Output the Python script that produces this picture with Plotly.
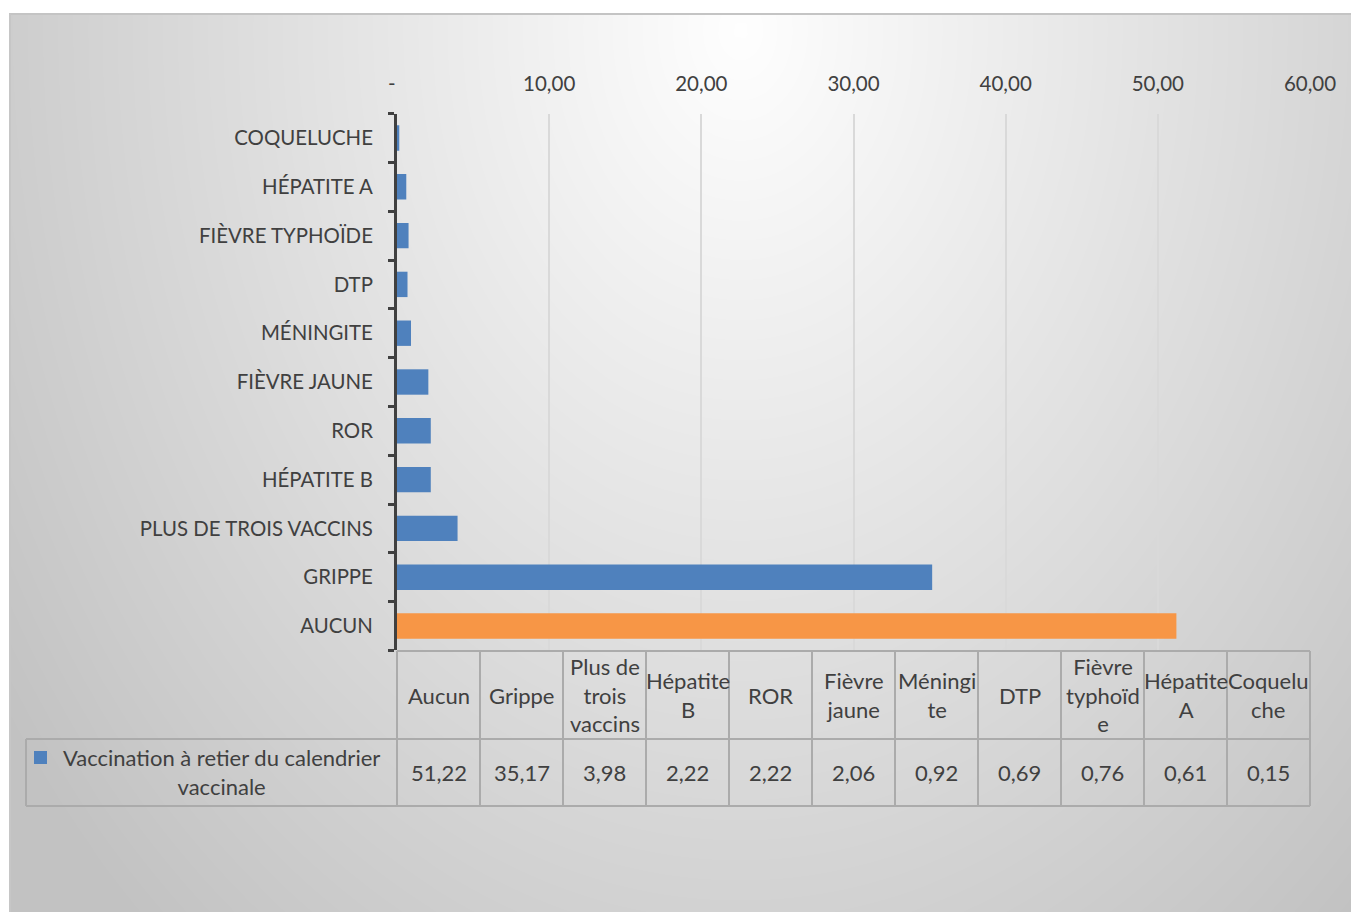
import numpy as np
import plotly.graph_objects as go

# ---------------- data ----------------
categories = ["Aucun", "Grippe", "Plus de trois vaccins", "Hépatite B", "ROR",
              "Fièvre jaune", "Méningite", "DTP", "Fièvre typhoïde", "Hépatite A",
              "Coqueluche"]
values = [51.22, 35.17, 3.98, 2.22, 2.22, 2.06, 0.92, 0.69, 0.76, 0.61, 0.15]
header_labels = ["Aucun", "Grippe", "Plus de<br>trois<br>vaccins", "Hépatite<br>B", "ROR",
                 "Fièvre<br>jaune", "Méningi<br>te", "DTP", "Fièvre<br>typhoïd<br>e",
                 "Hépatite<br>A", "Coquelu<br>che"]
series_label = "Vaccination à retier du calendrier<br>vaccinale"
x_tickvals = [0, 10, 20, 30, 40, 50, 60]
x_ticktext = ["-\u00a0\u00a0", "10,00", "20,00", "30,00", "40,00", "50,00", "60,00"]
highlight = "Aucun"

# ---------------- style ----------------
W, H = 1351, 912
FONT = "Lato"
TXT = "#404040"
BLUE = "#4F81BD"
ORANGE = "#F79646"
GRID = "#d9d9d9"
TABLE_LINE = "#ababab"
FS_TABLE = 22
FS_YTICK = 20.4
FS_XTICK = 20.5

def px(xp):
    return xp / W

def py(yp):
    return 1 - yp / H

x_dom = [px(397), px(1310)]
y_dom = [py(650.4), py(113.6)]
XMAX = 60

fig = go.Figure()

# background radial gradient (decorative) on hidden axes x/y
gx = np.linspace(9, W, 136)
gy = np.linspace(14, H, 91)
GX, GY = np.meshgrid(gx, gy)
t = np.sqrt(((GX - 740) / 900.0) ** 2 + ((GY - 30) / 1200.0) ** 2)
t = np.clip(t, 0, 1)
fig.add_trace(go.Heatmap(x=gx, y=gy, z=t, zmin=0, zmax=1, zsmooth="best",
                         colorscale=[[0, "#fefefe"], [1, "#c2c2c2"]],
                         showscale=False, hoverinfo="skip",
                         xaxis="x", yaxis="y"))

# bars
bar_colors = [ORANGE if c == highlight else BLUE for c in categories]
fig.add_trace(go.Bar(
    x=values, y=[c.upper() for c in categories], orientation="h",
    marker=dict(color=bar_colors, line=dict(width=0)),
    xaxis="x2", yaxis="y2", showlegend=False, hoverinfo="x+y"))

shapes = []
# card border
shapes.append(dict(type="line", xref="paper", yref="paper", x0=px(9), x1=1,
                   y0=py(14), y1=py(14), line=dict(color="#c4c4c4", width=2)))
shapes.append(dict(type="line", xref="paper", yref="paper", x0=px(10), x1=px(10),
                   y0=py(14), y1=0, line=dict(color="#c6c6c6", width=2)))

# data table grid
n = len(categories)
col_w = (x_dom[1] - x_dom[0]) / n
ln = dict(color=TABLE_LINE, width=2)
shapes.append(dict(type="line", xref="paper", yref="paper", x0=x_dom[0], x1=x_dom[1],
                   y0=py(651), y1=py(651), line=ln))
for yy in (739, 806):
    shapes.append(dict(type="line", xref="paper", yref="paper", x0=px(26), x1=x_dom[1],
                       y0=py(yy), y1=py(yy), line=ln))
shapes.append(dict(type="line", xref="paper", yref="paper", x0=px(26), x1=px(26),
                   y0=py(739), y1=py(806), line=ln))
for i in range(n + 1):
    xx = x_dom[0] + i * col_w
    shapes.append(dict(type="line", xref="paper", yref="paper", x0=xx, x1=xx,
                       y0=py(651), y1=py(806), line=ln))
# legend key
shapes.append(dict(type="rect", xref="paper", yref="paper", x0=px(34), x1=px(47),
                   y0=py(764), y1=py(751), fillcolor=BLUE, line=dict(width=0)))

annotations = []
for i, (lab, v) in enumerate(zip(header_labels, values)):
    xc = (i + 0.5) * XMAX / n
    annotations.append(dict(x=xc, xref="x2", y=py(695), yref="paper", text=lab,
                            showarrow=False, align="center", yanchor="middle",
                            font=dict(family=FONT, size=FS_TABLE, color=TXT)))
    annotations.append(dict(x=xc, xref="x2", y=py(772), yref="paper",
                            text=f"{v:.2f}".replace(".", ","),
                            showarrow=False, align="center", yanchor="middle",
                            font=dict(family=FONT, size=FS_TABLE, color=TXT)))
annotations.append(dict(x=px(221), xref="paper", y=py(772), yref="paper", text=series_label,
                        showarrow=False, align="center", xanchor="center", yanchor="middle",
                        font=dict(family=FONT, size=FS_TABLE, color=TXT)))

fig.update_layout(
    template="none",
    width=W, height=H,
    autosize=False,
    margin=dict(l=0, r=0, t=0, b=0, pad=0, autoexpand=False),
    paper_bgcolor="white",
    plot_bgcolor="rgba(0,0,0,0)",
    font=dict(family=FONT, size=FS_TABLE, color=TXT),
    showlegend=False,
    bargap=0.48,
    xaxis=dict(domain=[px(9), 1], range=[9, W], visible=False, fixedrange=True,
               automargin=False),
    yaxis=dict(domain=[0, py(14)], range=[H, 14], visible=False, fixedrange=True,
               automargin=False),
    xaxis2=dict(domain=x_dom, anchor="y2", side="top", range=[0, XMAX],
                tickvals=x_tickvals, ticktext=x_ticktext, showgrid=True,
                gridcolor=GRID, gridwidth=1.5, zeroline=False, showline=False,
                ticks="", ticklabelstandoff=18, automargin=False,
                tickfont=dict(family=FONT, size=FS_XTICK, color=TXT)),
    yaxis2=dict(domain=y_dom, anchor="x2", type="category",
                categoryorder="array", categoryarray=[c.upper() for c in categories],
                showline=True, linecolor="#404040", linewidth=3, zeroline=False,
                ticks="outside", tickson="boundaries", ticklen=6, tickwidth=3,
                tickcolor="#404040", ticklabelstandoff=17, showgrid=False,
                automargin=False,
                tickfont=dict(family=FONT, size=FS_YTICK, color=TXT)),
    shapes=shapes,
    annotations=annotations,
)

fig.write_html(
    "out.html",
    config={"displayModeBar": False},
    post_script=("document.documentElement.style.margin='0';"
                 "document.body.style.margin='0';document.body.style.padding='0';"
                 "document.documentElement.style.overflow='hidden';"
                 "document.body.style.overflow='hidden';"),
)
